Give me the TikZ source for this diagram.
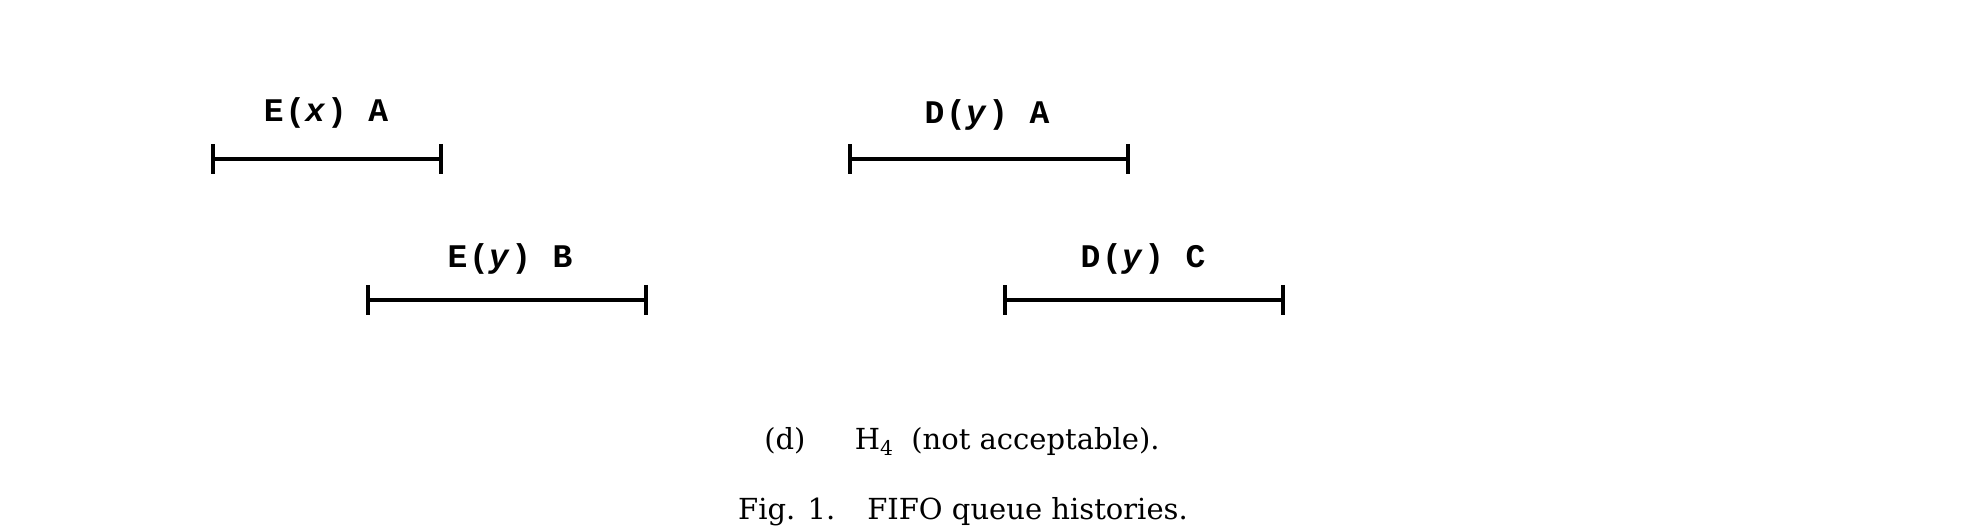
\documentclass[tikz,border=0pt]{standalone}
\usepackage{fontspec}
\newfontfamily\labfont[LetterSpace=5]{Liberation Mono}
\newfontfamily\captfont{DejaVu Serif}
\usetikzlibrary{arrows.meta}
\begin{document}
\begin{tikzpicture}[x=0.5pt,y=-0.5pt]
\tikzset{
  endbar/.tip={Bar[width=15pt,line width=2pt]},
  interval/.style={line width=2pt, endbar-endbar},
  lab/.style={font=\labfont\bfseries\fontsize{16.5}{18}\selectfont, inner sep=0pt},
  capt/.style={font=\captfont\fontsize{14.5}{17}\selectfont, inner sep=0pt, anchor=base}
}
\useasboundingbox (0,0) rectangle (1965,528);
% interval end points
\coordinate (a1) at (211,159);  \coordinate (a2) at (443,159);
\coordinate (b1) at (366,300);  \coordinate (b2) at (648,300);
\coordinate (c1) at (848,159);  \coordinate (c2) at (1130,159);
\coordinate (d1) at (1003,300); \coordinate (d2) at (1285,300);
\draw[interval] (a1) -- (a2);
\draw[interval] (b1) -- (b2);
\draw[interval] (c1) -- (c2);
\draw[interval] (d1) -- (d2);
% labels
\node[lab] (la) at (326,113) {E(\textit{x}) A};
\node[lab] (lb) at (510,259) {E(\textit{y}) B};
\node[lab] (lc) at (987,115) {D(\textit{y}) A};
\node[lab] (ld) at (1143,259) {D(\textit{y}) C};
% caption
\node[capt] (cap1) at (962,450) {(d)\hspace{1.7em}H\textsubscript{4}\hspace{0.6em}(not acceptable).};
\node[capt] (cap2) at (963,520) {Fig. 1.\hspace{1.1em}FIFO queue histories.};
\end{tikzpicture}
\end{document}
